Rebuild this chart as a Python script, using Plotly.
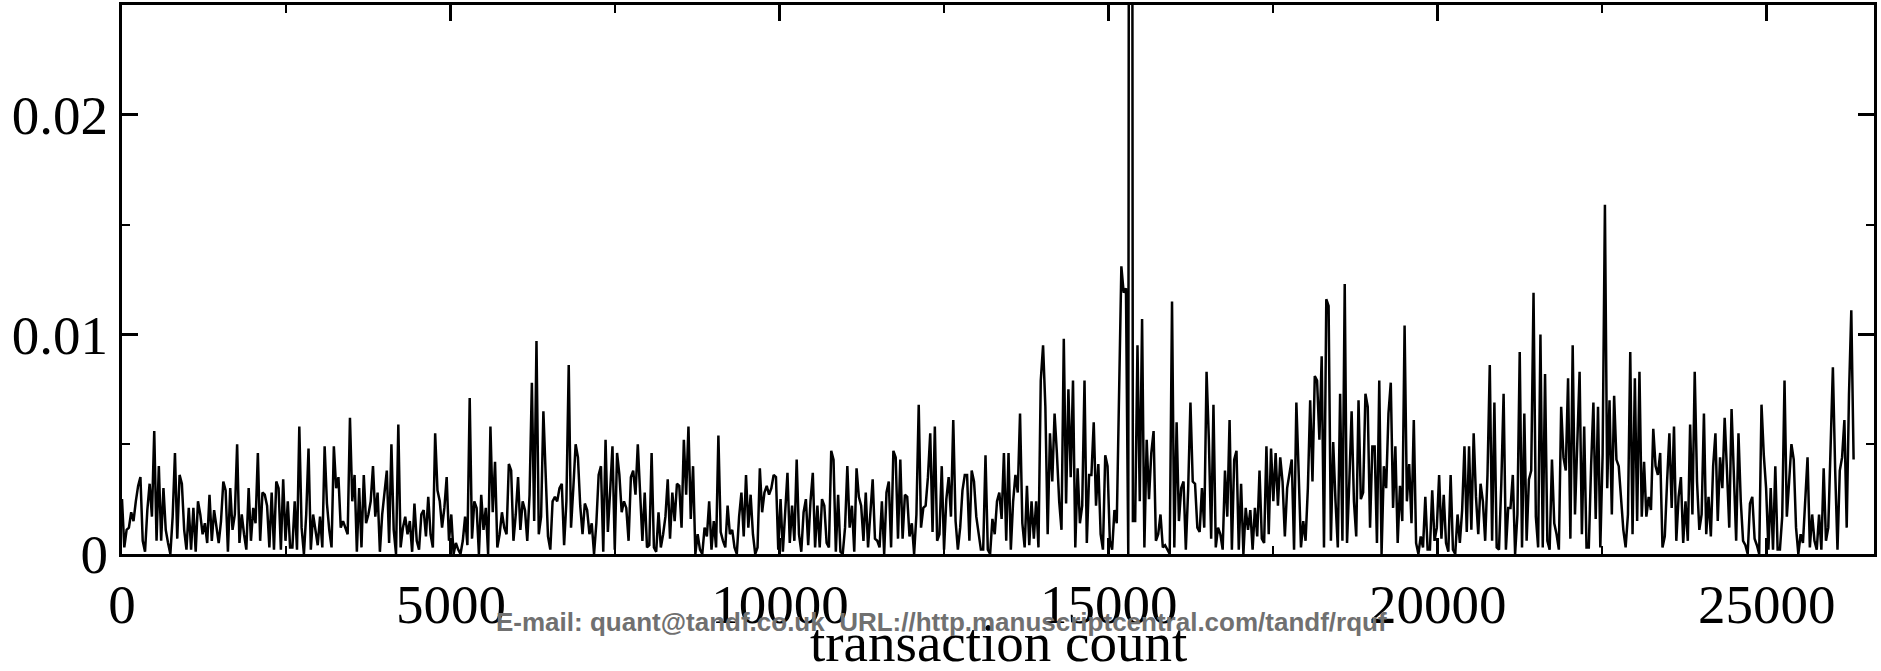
import plotly.graph_objects as go

# sampling interval of the series (transactions per sample)
STEP = 35

# series values in units of 1e-3, read left to right, segment by segment
vol_seg1 = [2.5,0.3,1.1,1.2,1.9,1.5,2.4,3.1,3.5,0.6,
            0.1,2.0,3.2,1.7,5.6,0.6,4.0,0.6,3.0,1.1,
            0.5,0.0,1.7,4.6,0.7,3.6,3.2,1.1,0.2,2.1,
            0.2,2.1,0.1,2.4,1.8,0.9,1.4,0.5,2.7,0.6,
            2.0,1.3,0.5,1.5,3.3,2.9,0.1,3.0,1.1,1.8,
            5.0,0.5,1.8,0.9,0.2,3.0,0.6,2.1,1.4,4.6,
            0.6,2.8,2.7,2.2,0.3,2.8,0.2,3.3,3.0,0.2,
            3.4,0.6,2.4,0.3,0.3,2.4,0.2,5.8,1.2,0.0,
            1.8,4.8,0.2,1.8,1.1,0.4,1.7,0.3,4.9,2.3,
            1.1,0.3,4.9]
vol_seg2 = [3.0,3.5,1.2,1.5,1.2,0.9,6.2,2.4,3.6,0.1,
            3.0,0.3,3.6,1.4,1.8,2.4,4.0,1.7,2.8,0.1,
            1.8,2.7,3.8,0.5,5.0,1.1,0.0,5.9,0.3,1.2,
            1.7,0.9,1.5,0.1,2.3,0.6,0.2,1.8,2.0,0.8,
            2.6,0.9,0.3,5.5,2.9,2.4,1.2,2.1,3.5,0.6,
            1.8,0.0,0.5,0.2,0.0,0.6,1.7,0.4,7.1,0.7,
            2.4,2.1,0.0,2.7,1.1,2.1,0.0,5.8,1.9,4.2,
            0.3,0.9,1.9,1.2,0.9,4.1,3.8,0.6,1.8,3.5,
            1.1,2.4,2.0,0.6,2.7,7.8,1.5,9.7,0.9,1.7,
            6.5,3.6,0.8,0.2,2.4,2.6]
vol_seg3 = [2.4,3.0,3.2,0.4,2.4,8.6,1.2,3.0,5.0,4.4,
            2.2,0.9,2.3,2.0,0.9,1.4,0.0,1.4,3.6,4.0,
            0.1,5.2,1.0,2.9,4.9,0.2,4.6,3.6,1.9,2.4,
            2.1,0.6,3.5,3.8,2.7,5.0,2.6,0.6,2.8,0.3,
            0.4,4.6,0.3,0.1,1.9,0.3,0.9,1.7,3.4,0.7,
            2.8,1.5,3.2,3.1,1.2,5.2,2.7,5.8,1.6,4.0,
            0.0,0.9,0.2,0.0,1.2,0.8,2.4,0.2,1.5,0.3,
            5.4,1.0,0.6,0.3,2.2,0.9,1.1,0.3,0.0,1.7,
            2.8,0.8,3.6,1.2,2.7,0.9,0.0,0.3,3.9,1.9,
            2.8,3.1,2.7,3.0,3.6]
vol_seg4 = [3.5,0.2,2.5,0.1,2.0,3.7,0.5,2.2,0.6,4.3,
            0.9,0.1,1.9,2.5,0.4,2.4,3.7,0.3,2.2,0.3,
            2.5,2.2,0.5,0.3,4.7,4.3,0.1,2.7,0.1,0.0,
            1.2,4.0,1.2,2.2,0.1,3.9,2.6,2.2,0.6,2.8,
            0.3,1.8,3.4,0.7,0.6,0.3,2.4,0.0,2.8,3.3,
            0.3,4.7,4.4,0.7,4.3,0.7,2.7,2.6,0.8,1.4,
            0.0,1.8,6.8,1.2,2.1,2.2,3.5,5.5,1.0,5.8,
            0.6,0.9,4.0,0.2,2.5,3.5,1.7,6.1,1.5,0.2,
            1.2,2.9,3.6,3.6,0.6,3.8,3.3,1.7,0.9,0.2,
            0.2,4.5,0.2,0.0,1.6,0.9]
vol_seg5 = [2.4,2.8,1.6,4.6,0.6,4.6,0.2,2.4,3.6,2.8,
            6.4,1.4,0.3,3.1,0.4,2.4,0.7,2.4,0.3,7.9,
            9.5,6.7,0.9,5.5,3.3,6.4,4.6,2.4,1.1,9.8,
            2.3,7.5,3.5,7.9,0.3,3.9,1.4,2.2,7.9,0.5,
            3.6,3.6,6.0,2.2,4.1,0.9,0.2,4.5,4.0,0.6,
            0.2,2.0,1.4,7.6,13.1,11.9,12.1,0.0,120.0,1.5,
            1.5,9.5,2.4,10.7,0.3,5.2,2.5,4.6,5.6,0.6,
            0.9,1.8,0.3,0.4,0.2,0.0,11.5,0.3,6.0,1.5,
            3.0,3.3,0.2,2.9,6.9,3.3,3.2,1.2,1.0,3.0,
            1.2,8.3,5.2,0.7,6.8]
vol_seg6 = [0.3,1.2,0.9,0.2,3.8,1.7,6.1,0.2,4.3,4.7,
            0.2,3.2,0.0,2.1,1.1,2.0,0.2,2.1,0.8,3.8,
            0.7,0.5,4.9,0.9,4.8,2.4,4.6,2.2,4.4,3.3,
            0.8,3.0,3.6,4.3,0.2,6.9,3.7,0.3,1.5,0.6,
            3.0,7.0,3.3,8.1,7.9,5.2,9.0,0.3,11.6,11.3,
            0.6,5.1,2.4,0.3,7.3,0.6,12.3,0.5,3.3,6.5,
            2.4,0.8,7.0,2.5,2.8,7.3,6.7,1.2,4.9,4.9,
            0.5,7.9,0.0,4.0,3.0,6.4,7.8,2.1,4.9,0.5,
            3.1,1.5,10.4,2.4,4.1,1.4,6.1,0.5,0.0,0.8,
            0.3,2.6,0.2,0.2,2.9,0.6]
vol_seg7 = [1.2,3.6,0.7,2.7,0.5,0.1,3.6,0.2,0.0,1.8,
            0.5,2.0,4.9,1.0,4.9,1.1,5.5,2.6,0.9,3.2,
            2.4,0.6,3.6,8.6,0.6,6.9,0.3,0.2,3.2,7.3,
            0.2,2.1,2.1,3.6,0.0,1.8,9.2,0.3,6.4,0.6,
            3.4,3.8,11.9,1.7,0.3,10.0,0.3,8.2,0.6,0.2,
            4.3,1.4,0.9,0.2,6.7,4.4,3.8,8.0,0.7,9.5,
            1.8,4.9,8.3,0.9,5.8,0.3,0.3,4.0,6.9,1.6,
            6.7,0.3,4.5,15.9,3.0,7.0,1.8,7.2,4.3,4.0,
            2.7,1.1,0.3,1.8,9.2,0.9,8.0,1.5,8.3,1.7,
            4.2,1.7,2.6,2.0,5.7]
vol_seg8 = [4.0,3.6,4.6,0.3,0.8,3.3,5.5,2.1,5.8,0.6,
            2.6,3.5,0.5,2.4,0.6,5.9,1.8,8.3,3.3,1.1,
            1.8,6.4,0.9,2.6,0.8,4.0,5.5,1.5,4.4,3.0,
            6.2,3.8,1.2,6.6,3.9,0.6,5.5,2.4,0.6,0.4,
            0.0,2.3,2.6,0.7,0.4,0.0,6.8,4.5,3.0,0.2,
            3.0,0.2,4.0,0.2,0.2,1.7,7.9,1.7,3.3,5.0,
            4.3,1.2,0.0,0.9,0.5,2.7,4.4,0.3,1.8,0.6,
            0.2,1.8,0.2,3.9,0.6,1.2,4.7,8.5,3.8,0.2,
            3.8,4.4,6.1,1.2,7.3,11.1,4.3]

x_tick_vals = [0, 5000, 10000, 15000, 20000, 25000]
x_tick_text = ["0", "5000", "10000", "15000", "20000", "25000"]
y_tick_vals = [0, 0.01, 0.02]
y_tick_text = ["0", "0.01", "0.02"]

vol_e3 = (vol_seg1 + vol_seg2 + vol_seg3 + vol_seg4 +
          vol_seg5 + vol_seg6 + vol_seg7 + vol_seg8)
volatility = [v * 1e-3 for v in vol_e3]
transactions = [i * STEP for i in range(len(volatility))]

SERIF = "Liberation Serif, Times New Roman, serif"

fig = go.Figure()
fig.add_trace(go.Scatter(
    x=transactions, y=volatility, mode="lines",
    line=dict(color="black", width=2.5), hoverinfo="skip"))

axis_common = dict(
    showline=True, linecolor="black", linewidth=3, mirror="allticks",
    ticks="inside", ticklen=16, tickwidth=2.5, tickcolor="black",
    showgrid=False, zeroline=False,
    tickfont=dict(family=SERIF, size=55, color="black"),
)

fig.update_xaxes(
    range=[0, 26630], tickmode="array",
    tickvals=x_tick_vals, ticktext=x_tick_text,
    minor=dict(ticks="inside", ticklen=8, tickwidth=2, tickcolor="black",
               tick0=0, dtick=2500, showgrid=False),
    **axis_common)
fig.update_yaxes(
    range=[0, 0.025], tickmode="array",
    tickvals=y_tick_vals, ticktext=y_tick_text,
    minor=dict(ticks="inside", ticklen=8, tickwidth=2, tickcolor="black",
               tick0=0, dtick=0.005, showgrid=False),
    **axis_common)

fig.add_annotation(
    text="transaction count", xref="paper", yref="paper",
    x=0.5, y=-0.102, xanchor="center", yanchor="top", showarrow=False,
    font=dict(family=SERIF, size=55, color="black"))
fig.add_annotation(
    text="E-mail: quant@tandf.co.uk  URL://http.manuscriptcentral.com/tandf/rquf",
    xref="paper", yref="paper", x=0.468, y=-0.123,
    xanchor="center", yanchor="middle", showarrow=False,
    font=dict(family="Liberation Sans, Arial, sans-serif", size=26,
              color="#707070", weight="bold"))

fig.update_layout(
    width=1881, height=671,
    margin=dict(l=122, r=7, t=2, b=117),
    plot_bgcolor="white", paper_bgcolor="white",
    showlegend=False,
)

fig.write_html("out.html")
